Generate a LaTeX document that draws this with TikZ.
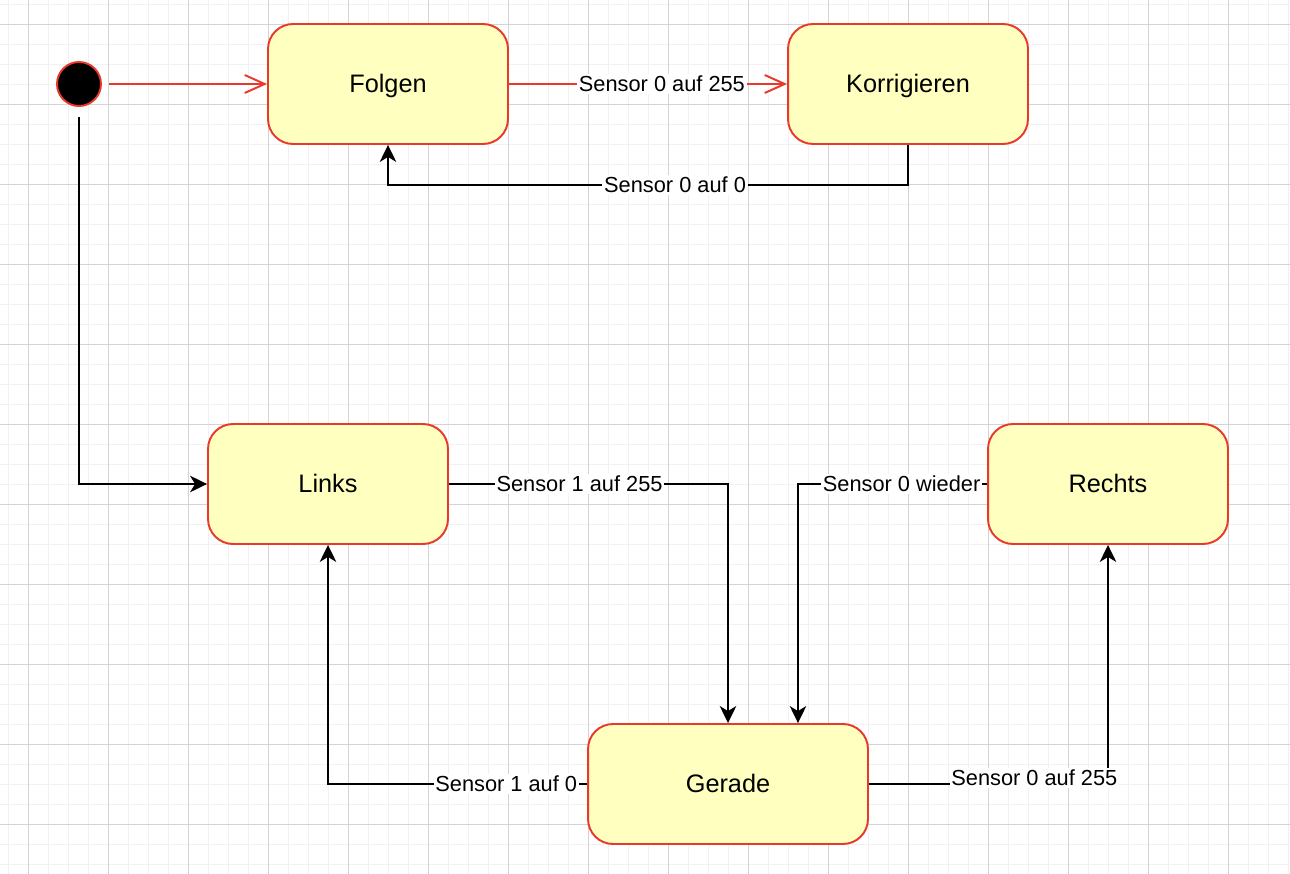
\documentclass[tikz,border=0pt]{standalone}
\usepackage{fontspec}
\setmainfont{Liberation Sans}
\usetikzlibrary{positioning,arrows.meta}
\definecolor{sfill}{HTML}{FFFFC0}
\definecolor{sline}{HTML}{E8392B}
\definecolor{gminor}{HTML}{F1F1F1}
\definecolor{gmajor}{HTML}{D4D4D4}
\tikzset{sstate/.style={rectangle, rounded corners=0.5cm, draw=sline, fill=sfill, line width=1.1pt, minimum width=4.8cm, minimum height=2.4cm, text height=10.4pt, text depth=0.7pt, font=\fontsize{14.4}{17}\selectfont}}
\tikzset{sstart/.style={circle, draw=sline, fill=black, line width=1.1pt, minimum size=0.88cm, inner sep=0pt}}
\tikzset{sinit/.style={draw=sline, line width=1.1pt, -{Straight Barb[length=4mm,width=3.6mm]}}}
\tikzset{sedge/.style={draw=black, line width=1.1pt, -{Stealth[length=3.4mm,width=3.3mm,inset=1mm]}}}
\tikzset{slabel/.style={fill=white, inner sep=1pt, font=\fontsize{12.4}{15}\selectfont}}
\tikzset{gminorline/.style={draw=gminor, line width=0.55pt}}
\tikzset{gmajorline/.style={draw=gmajor, line width=0.55pt}}

\begin{document}
\begin{tikzpicture}[x=0.02cm, y=-0.02cm]
  \useasboundingbox (0,0) rectangle (1290,874);
  % background grid
  \fill[white] (0,0) rectangle (1290,874);
  \foreach \gx in {8,28,...,1288} \draw[gminorline] (\gx,0) -- (\gx,874);
  \foreach \gy in {4,24,...,864} \draw[gminorline] (0,\gy) -- (1290,\gy);
  \foreach \gx in {28,108,...,1268} \draw[gmajorline] (\gx,0) -- (\gx,874);
  \foreach \gy in {24,104,...,824} \draw[gmajorline] (0,\gy) -- (1290,\gy);

  \node[sstart] (start) at (79,84) {};
  \node[sstate] (folgen) at (388,84) {Folgen};
  \node[sstate] (korr) at (908,84) {Korrigieren};
  \node[sstate] (links) at (328,484) {Links};
  \node[sstate] (rechts) at (1108,484) {Rechts};
  \node[sstate, minimum width=5.6cm] (gerade) at (728,784) {Gerade};

  \draw[sinit, shorten <=0.14cm] (start) -- (folgen);
  \draw[sinit] (folgen) -- node[slabel, pos=0.55] {Sensor 0 auf 255} (korr);
  \draw[sedge] (korr.south) -- ++(0,40) -| node[slabel, pos=0.224] {Sensor 0 auf 0} (folgen.south);

  \draw[sedge, shorten <=0.2cm] (start.south) |- (links.west);
  \draw[sedge] (links.east) -| node[slabel, pos=0.234] {Sensor 1 auf 255} (gerade.north);
  \draw[sedge] (rechts.west) -| node[slabel, pos=0.226] {Sensor 0 wieder} ([xshift=1.4cm]gerade.north);
  \draw[sedge] (gerade.west) -| node[slabel, pos=0.156] {Sensor 1 auf 0} (links.south);
  \draw[sedge] (gerade.east) -| node[slabel, pos=0.346, yshift=0.12cm] {Sensor 0 auf 255} (rechts.south);
\end{tikzpicture}
\end{document}
